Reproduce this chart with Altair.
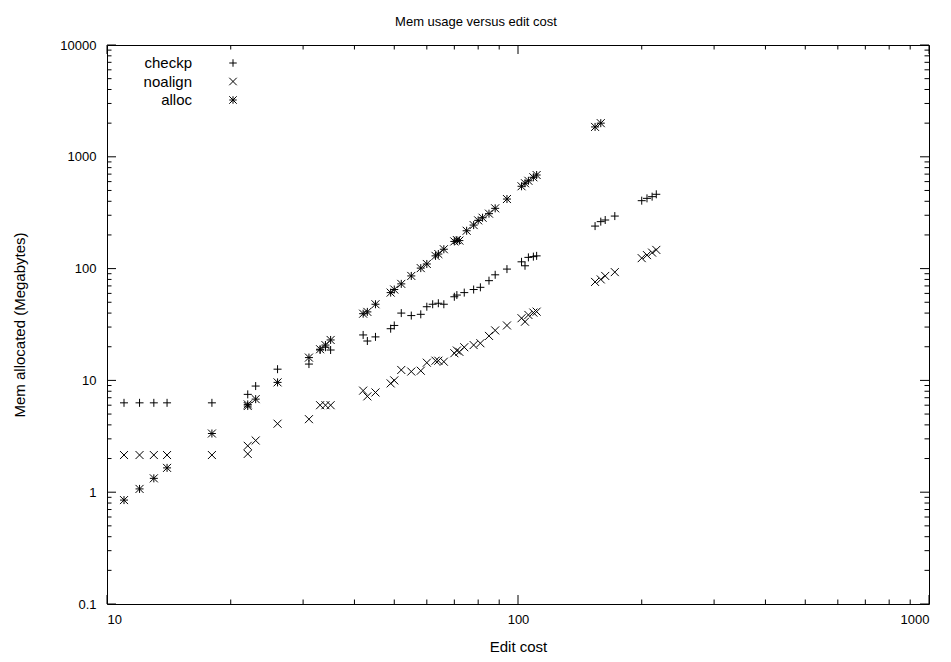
import altair as alt
import pandas as pd

FONT = "Liberation Sans"
SERIES = ["checkp", "noalign", "alloc"]

checkp_cost = [11, 12, 13, 14, 18, 22, 23, 26, 31, 33, 34, 35, 42, 43, 45, 49, 50, 52, 55, 58, 60,
               62, 64, 66, 70, 71, 74, 78, 81, 85, 88, 94, 102, 104, 106, 109, 111,
               154, 159, 163, 172, 200, 206, 212, 217]
checkp_mem = [6.3, 6.3, 6.3, 6.3, 6.3, 7.5, 8.9, 12.6, 14, 18.7, 19.8, 18.7, 25.5, 22.5, 24.5, 29, 31, 40, 38, 39, 45.6,
              48, 49, 48, 56, 58, 61, 65, 68, 78, 88, 99, 115, 106, 126, 128, 130,
              240, 263, 272, 295, 405, 425, 440, 462]

noalign_cost = [11, 12, 13, 14, 18, 22, 22, 23, 26, 31, 33, 34, 35, 42, 43, 45, 49, 50, 52, 55, 58, 60,
                63, 64, 66, 70, 71, 72, 74, 78, 81, 85, 88, 94, 102, 104, 106, 109, 111,
                154, 159, 163, 172, 200, 206, 212, 217]
noalign_mem = [2.15, 2.15, 2.15, 2.15, 2.15, 2.2, 2.6, 2.9, 4.1, 4.5, 6.0, 6.0, 6.0, 8.1, 7.2, 7.8, 9.4, 10, 12.4, 12.0, 12.2, 14.4,
               15, 15, 14.7, 17.5, 18.5, 18, 19.8, 20.7, 21.5, 25, 28, 31, 36, 33.5, 38.5, 40.4, 41.2,
               76, 80, 86, 93, 124, 132, 139, 147]

alloc_cost = [11, 12, 13, 14, 18, 22, 22, 23, 26, 31, 33, 34, 35, 42, 43, 45, 49, 50, 52, 55, 58, 60,
              63, 64, 66, 70, 71, 72, 75, 78, 80, 82, 85, 88, 94, 102, 104, 106, 109, 111, 154, 159]
alloc_mem = [0.85, 1.07, 1.33, 1.65, 3.35, 5.9, 6.1, 6.8, 9.6, 16, 19, 20.7, 23, 39.5, 41, 48, 61, 65, 73, 86, 101, 110,
             130, 135, 149, 175, 180, 178, 218, 245, 270, 285, 310, 346, 419, 545, 580, 610, 656, 687, 1850, 2000]

x_major = [10, 100, 1000]
x_minor = [m * d for d in [10, 100] for m in range(2, 10)]
y_major = [0.1, 1, 10, 100, 1000, 10000]
y_minor = [m * d for d in [0.1, 1, 10, 100, 1000] for m in range(2, 10)]

rows = []
for name, cs, ms in [("checkp", checkp_cost, checkp_mem),
                     ("noalign", noalign_cost, noalign_mem),
                     ("alloc", alloc_cost, alloc_mem)]:
    for c, m in zip(cs, ms):
        rows.append({"series": name, "cost": c, "mem": m})
df = pd.DataFrame(rows)

W, H = 822, 559
MAJ, MIN = 9, 4.5
WORD_SIZE = 15

PLUS = "M-1,0L1,0M0,-1L0,1"
CROSS = "M-1,-1L1,1M-1,1L1,-1"
STAR = PLUS + CROSS
shape_scale = alt.Scale(domain=SERIES, range=[PLUS, CROSS, STAR])

xscale = alt.Scale(type="log", domain=[10, 1000], nice=False)
yscale = alt.Scale(type="log", domain=[0.1, 10000], nice=False)
xaxis = alt.Axis(values=x_major, format="~g", title="Edit cost", labelPadding=9, titlePadding=13)
yaxis = alt.Axis(values=y_major, format="~g", title="Mem allocated (Megabytes)",
                 labelPadding=11, titlePadding=32)

points = alt.Chart(df).mark_point(
    filled=False, color="black", strokeWidth=1, size=64, opacity=1
).encode(
    x=alt.X("cost:Q", scale=xscale, axis=xaxis),
    y=alt.Y("mem:Q", scale=yscale, axis=yaxis),
    shape=alt.Shape("series:N", scale=shape_scale, legend=None),
)

def xticks(vals, length):
    d = pd.DataFrame({"cost": vals})
    b = alt.Chart(d).mark_rule(color="black", strokeWidth=1).encode(
        x=alt.X("cost:Q", scale=xscale, axis=xaxis), y=alt.value(H), y2=alt.value(H - length))
    t = alt.Chart(d).mark_rule(color="black", strokeWidth=1).encode(
        x=alt.X("cost:Q", scale=xscale, axis=xaxis), y=alt.value(0), y2=alt.value(length))
    return [b, t]

def yticks(vals, length):
    d = pd.DataFrame({"mem": vals})
    l = alt.Chart(d).mark_rule(color="black", strokeWidth=1).encode(
        y=alt.Y("mem:Q", scale=yscale, axis=yaxis), x=alt.value(0), x2=alt.value(length))
    r = alt.Chart(d).mark_rule(color="black", strokeWidth=1).encode(
        y=alt.Y("mem:Q", scale=yscale, axis=yaxis), x=alt.value(W), x2=alt.value(W - length))
    return [l, r]

tick_layers = xticks(x_major, MAJ) + xticks(x_minor, MIN) + yticks(y_major, MAJ) + yticks(y_minor, MIN)

LEG_TEXT_X, LEG_SYM_X, LEG_Y0, LEG_DY = 85, 126, 18, 18.5
legend_layers = []
for i, name in enumerate(SERIES):
    ld = pd.DataFrame({"series": [name]})
    legend_layers.append(
        alt.Chart(ld).mark_text(align="right", baseline="middle", fontSize=WORD_SIZE, font=FONT,
                                color="black").encode(
            text="series:N", x=alt.value(LEG_TEXT_X), y=alt.value(LEG_Y0 + i * LEG_DY)))
    legend_layers.append(
        alt.Chart(ld).mark_point(filled=False, color="black", strokeWidth=1, size=56, opacity=1).encode(
            shape=alt.Shape("series:N", scale=shape_scale, legend=None),
            x=alt.value(LEG_SYM_X), y=alt.value(LEG_Y0 + i * LEG_DY)))

chart = alt.layer(points, *tick_layers, *legend_layers).properties(
    width=W, height=H,
    autosize=alt.AutoSizeParams(type="none"),
    padding={"left": 107, "top": 45, "right": 22, "bottom": 58},
    title=alt.TitleParams(text="Mem usage versus edit cost", font=FONT, fontSize=13,
                          fontWeight="normal", color="black", anchor="middle",
                          baseline="alphabetic", offset=0, dx=-42),
).configure_view(
    stroke="black", strokeWidth=1
).configure_axis(
    domain=False, ticks=False, grid=False,
    labelFont=FONT, labelFontSize=13, labelColor="black",
    titleFont=FONT, titleFontSize=WORD_SIZE, titleFontWeight="normal", titleColor="black",
)

chart.save("out.html", embed_options={"renderer": "svg", "actions": False})
